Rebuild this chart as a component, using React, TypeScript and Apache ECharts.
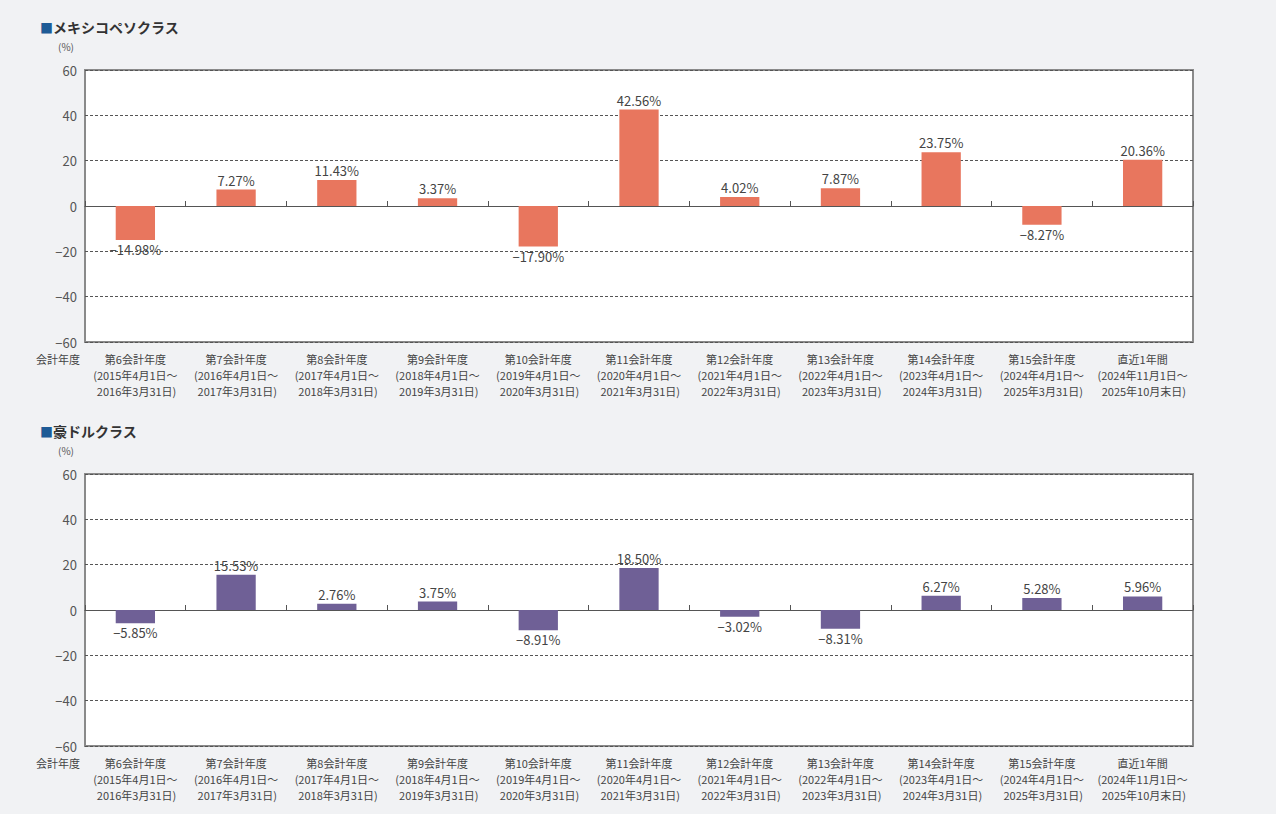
import React, { useEffect, useRef } from "react";
import * as echarts from "echarts";

const periods = ["第6会計年度", "第7会計年度", "第8会計年度", "第9会計年度", "第10会計年度", "第11会計年度", "第12会計年度", "第13会計年度", "第14会計年度", "第15会計年度", "直近1年間"];
const periodStart = ["2015年4月1日～", "2016年4月1日～", "2017年4月1日～", "2018年4月1日～", "2019年4月1日～", "2020年4月1日～", "2021年4月1日～", "2022年4月1日～", "2023年4月1日～", "2024年4月1日～", "2024年11月1日～"];
const periodEnd = ["2016年3月31日", "2017年3月31日", "2018年3月31日", "2019年3月31日", "2020年3月31日", "2021年3月31日", "2022年3月31日", "2023年3月31日", "2024年3月31日", "2025年3月31日", "2025年10月末日"];

const mxnValues = [-14.98, 7.27, 11.43, 3.37, -17.9, 42.56, 4.02, 7.87, 23.75, -8.27, 20.36];
const audValues = [-5.85, 15.53, 2.76, 3.75, -8.91, 18.5, -3.02, -8.31, 6.27, 5.28, 5.96];

const titles = ["メキシコペソクラス", "豪ドルクラス"];
const colors = ["#e8765e", "#6f6096"];

const FONT = "'Noto Sans CJK JP', 'Noto Sans', sans-serif";

const fmtSigned = (v: number) => (v < 0 ? "−" + Math.abs(v) : String(v));
const fmtPct = (v: number) => (v < 0 ? "−" + Math.abs(v).toFixed(2) : v.toFixed(2)) + "%";

export default function App() {
  const ref = useRef<HTMLDivElement>(null);
  useEffect(() => {
    document.body.style.margin = "0";
    const chart = echarts.init(ref.current!, null, { renderer: "svg" });
    const categories = periods.map((p, i) => `${p}\n(${periodStart[i]}\n ${periodEnd[i]})`);
    const grids = [
      { left: 85, top: 70, width: 1108, height: 272 },
      { left: 85, top: 474, width: 1108, height: 272 },
    ];
    const xAxis: any[] = [];
    const yAxis: any[] = [];
    const series: any[] = [];
    const graphic: any[] = [];
    [mxnValues, audValues].forEach((vals, gi) => {
      xAxis.push({
        type: "category",
        gridIndex: gi,
        data: periods,
        axisLine: { onZero: true, lineStyle: { color: "#555", width: 1.2 } },
        axisTick: { show: true, inside: true, length: 5, lineStyle: { color: "#555" } },
        axisLabel: { show: false },
      });
      xAxis.push({
        type: "category",
        gridIndex: gi,
        position: "bottom",
        data: categories,
        axisLine: { show: false, onZero: false },
        axisTick: { show: false },
        axisLabel: {
          interval: 0,
          fontSize: 11,
          lineHeight: 16,
          color: "#444",
          fontFamily: FONT,
          margin: 9,
        },
      });
      yAxis.push({
        type: "value",
        gridIndex: gi,
        min: -60,
        max: 60,
        interval: 20,
        axisLine: { show: false },
        axisTick: { show: false },
        axisLabel: { color: "#555", fontSize: 13, fontFamily: FONT, margin: 8, formatter: fmtSigned },
        splitLine: { show: true, lineStyle: { color: "#555", type: [3, 2], width: 1 } },
      });
      series.push({
        type: "bar",
        xAxisIndex: gi * 2,
        yAxisIndex: gi,
        barWidth: "39%",
        itemStyle: { color: colors[gi] },
        data: vals.map((v) => ({
          value: v,
          label: { position: v < 0 ? "bottom" : "top" },
        })),
        label: {
          show: true,
          distance: 3,
          color: "#444",
          fontSize: 13,
          fontFamily: FONT,
          formatter: (p: any) => fmtPct(p.value),
        },
      });
      const top = grids[gi].top;
      graphic.push({
        type: "text",
        left: 40,
        top: top - 50,
        style: {
          text: "{sq|■}{t|" + titles[gi] + "}",
          rich: {
            sq: { fill: "#1e5b96", fontSize: 13, fontFamily: FONT },
            t: { fill: "#333", fontSize: 14, fontWeight: "bold", fontFamily: FONT },
          },
        },
      });
      graphic.push({
        type: "text",
        left: 58,
        top: top - 29,
        style: { text: "(%)", fill: "#555", fontSize: 10, fontFamily: FONT },
      });
      graphic.push({
        type: "text",
        left: 36,
        top: top + 283,
        style: { text: "会計年度", fill: "#444", fontSize: 11, fontFamily: FONT },
      });
    });
    chart.setOption({
      animation: false,
      backgroundColor: "#f1f2f4",
      grid: grids.map((g) => ({ ...g, show: true, backgroundColor: "#fff", borderColor: "#8a8a8a", borderWidth: 2 })),
      xAxis,
      yAxis,
      series,
      graphic,
    });
    return () => chart.dispose();
  }, []);
  return <div ref={ref} style={{ width: 1276, height: 814 }} />;
}
